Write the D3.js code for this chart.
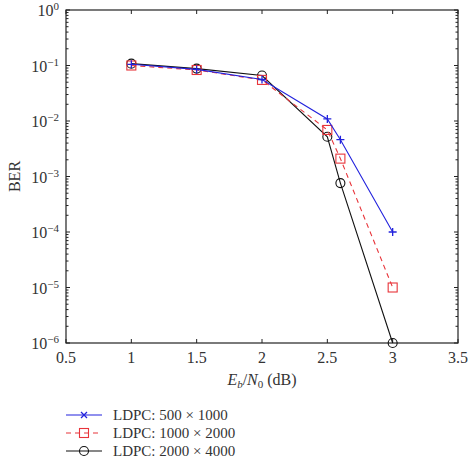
<!DOCTYPE html>
<html><head><meta charset="utf-8">
<script src="https://cdn.jsdelivr.net/npm/d3@7"></script>
<style>body{margin:0;background:#fff}svg{font-family:"Liberation Serif","DejaVu Serif",serif}</style>
</head><body><svg id="c" width="474" height="462"></svg>
<script>
const xValues = [1, 1.5, 2, 2.5, 2.6, 3];
const ber500 = [0.105, 0.085, 0.056, 0.0109, 0.0046, 0.0001];
const ber1000 = [0.100, 0.083, 0.055, 0.0069, 0.0021, 0.00001];
const ber2000 = [0.108, 0.088, 0.066, 0.0052, 0.00076, 0.000001];
const seriesNames = ["LDPC: 500 \u00d7 1000", "LDPC: 1000 \u00d7 2000", "LDPC: 2000 \u00d7 4000"];
const xTicks = [0.5, 1, 1.5, 2, 2.5, 3, 3.5];
const yExps = [0, -1, -2, -3, -4, -5, -6];

const svg = d3.select("#c");
const L = 66, R = 458, T = 10, B = 343;
const x = d3.scaleLinear().domain([0.5, 3.5]).range([L, R]);
const y = d3.scaleLog().domain([1e-6, 1]).range([B, T]);
const axisColor = "#222";

svg.append("rect").attr("x", L).attr("y", T).attr("width", R - L).attr("height", B - T)
  .attr("fill", "none").attr("stroke", axisColor).attr("stroke-width", 1.2);

const g = svg.append("g");
xTicks.forEach(v => {
  const px = x(v);
  g.append("line").attr("x1", px).attr("x2", px).attr("y1", B).attr("y2", B - 4).attr("stroke", axisColor);
  g.append("line").attr("x1", px).attr("x2", px).attr("y1", T).attr("y2", T + 4).attr("stroke", axisColor);
  g.append("text").attr("x", px).attr("y", B + 20).attr("text-anchor", "middle")
    .attr("font-size", 16).attr("fill", "#333").text(v);
});

yExps.forEach(e => {
  const py = y(Math.pow(10, e));
  g.append("line").attr("x1", L).attr("x2", L + 4).attr("y1", py).attr("y2", py).attr("stroke", axisColor);
  g.append("line").attr("x1", R).attr("x2", R - 4).attr("y1", py).attr("y2", py).attr("stroke", axisColor);
  const t = g.append("text").attr("x", 59).attr("y", py + 6).attr("text-anchor", "end")
    .attr("font-size", 16).attr("fill", "#333");
  t.append("tspan").text("10");
  t.append("tspan").attr("dy", -6).attr("font-size", 11).text(e === 0 ? "0" : "\u2212" + (-e));
  if (e > -6) {
    for (let k = 2; k <= 9; k++) {
      const pm = y(k * Math.pow(10, e - 1));
      g.append("line").attr("x1", L).attr("x2", L + 2.5).attr("y1", pm).attr("y2", pm).attr("stroke", axisColor);
      g.append("line").attr("x1", R).attr("x2", R - 2.5).attr("y1", pm).attr("y2", pm).attr("stroke", axisColor);
    }
  }
});

svg.append("text").attr("transform", "translate(20," + ((T + B) / 2) + ") rotate(-90)")
  .attr("text-anchor", "middle").attr("font-size", 16).attr("fill", "#333").text("BER");
const xl = svg.append("text").attr("x", x(2)).attr("y", 385).attr("text-anchor", "middle")
  .attr("font-size", 16).attr("fill", "#333");
xl.append("tspan").attr("font-style", "italic").text("E");
xl.append("tspan").attr("font-style", "italic").attr("font-size", 11).attr("dy", 3).text("b");
xl.append("tspan").attr("dy", -3).text("/");
xl.append("tspan").attr("font-style", "italic").text("N");
xl.append("tspan").attr("font-size", 11).attr("dy", 3).text("0");
xl.append("tspan").attr("dy", -3).text(" (dB)");

const series = [
  {vals: ber500, color: "#2222dd", dash: null, marker: "plus"},
  {vals: ber1000, color: "#e8343a", dash: "5,4", marker: "square"},
  {vals: ber2000, color: "#111", dash: null, marker: "circle"}
];
const line = d3.line().x(d => x(d[0])).y(d => y(d[1]));

function drawMarker(sel, type, cx, cy, color, legend) {
  if (type === "plus") {
    if (legend) {
      sel.append("path").attr("d", `M${cx-3},${cy-3}L${cx+3},${cy+3}M${cx-3},${cy+3}L${cx+3},${cy-3}`)
        .attr("stroke", color).attr("stroke-width", 1.3);
    } else {
      sel.append("path").attr("d", `M${cx-4},${cy}L${cx+4},${cy}M${cx},${cy-4}L${cx},${cy+4}`)
        .attr("stroke", color).attr("stroke-width", 1.3);
    }
  } else if (type === "square") {
    sel.append("rect").attr("x", cx - 4.5).attr("y", cy - 4.5).attr("width", 9).attr("height", 9)
      .attr("fill", "none").attr("stroke", color).attr("stroke-width", 1.1);
  } else {
    sel.append("circle").attr("cx", cx).attr("cy", cy).attr("r", 4.5)
      .attr("fill", "none").attr("stroke", color).attr("stroke-width", 1.1);
  }
}

[2, 1, 0].forEach(i => {
  const s = series[i];
  const pts = xValues.map((xv, j) => [xv, s.vals[j]]);
  svg.append("path").attr("d", line(pts)).attr("fill", "none").attr("stroke", s.color)
    .attr("stroke-width", 1.1).attr("stroke-dasharray", s.dash);
  pts.forEach(p => drawMarker(svg, s.marker, x(p[0]), y(p[1]), s.color, false));
});

const legY = [415, 433, 451];
series.forEach((s, i) => {
  svg.append("line").attr("x1", 66).attr("x2", 102).attr("y1", legY[i]).attr("y2", legY[i])
    .attr("stroke", s.color).attr("stroke-width", 1.1).attr("stroke-dasharray", s.dash);
  drawMarker(svg, s.marker, 84, legY[i], s.color, true);
  svg.append("text").attr("x", 113).attr("y", legY[i] + 5).attr("font-size", 15).attr("fill", "#333")
    .text(seriesNames[i]);
});
</script></body></html>
